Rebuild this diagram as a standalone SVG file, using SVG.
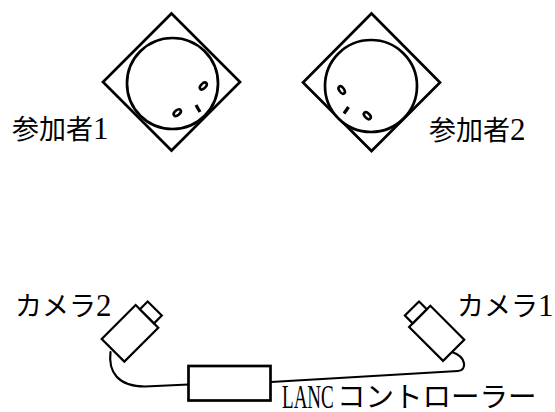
<svg xmlns="http://www.w3.org/2000/svg" width="555" height="412" viewBox="0 0 555 412">
  <style>
    .outline { fill: #fff; stroke: #000; stroke-width: 2.7; stroke-linejoin: miter; }
    .eye { fill: #fff; stroke: #000; stroke-width: 2.6; }
    .nose { stroke: #000; stroke-width: 3.2; stroke-linecap: butt; }
    .cam { fill: #fff; stroke: #000; stroke-width: 2.2; }
    .cable { fill: none; stroke: #000; stroke-width: 2.2; stroke-linecap: round; }
    .label { font-family: "Liberation Serif", "Noto Sans CJK JP", serif; font-size: 27px; fill: #000; }
    .num { font-family: "Liberation Serif", serif; font-size: 31px; }
  </style>
  <rect width="555" height="412" fill="#fff"/>

  <!-- cables between the cameras and the controller -->
  <g id="connectors">
    <path class="cable" d="M110.5,352 C108,372 118,386.5 145,386.5 L188.5,384.5"/>
    <path class="cable" d="M271,382 L458,371 C467,370.5 467,357 452,352"/>
  </g>

  <!-- participant 1: seat (diamond) with head seen from above -->
  <g id="participant1">
    <polygon class="outline" points="171.5,13.5 240,82 171.5,150.5 103,82"/>
    <circle class="outline" cx="172.5" cy="83.5" r="45.5"/>
    <ellipse class="eye" cx="203.3" cy="86" rx="4.2" ry="2.4" transform="rotate(-45 203.3 86)"/>
    <ellipse class="eye" cx="177.3" cy="112.7" rx="4.2" ry="2.4" transform="rotate(-40 177.3 112.7)"/>
    <line class="nose" x1="196" y1="105" x2="200" y2="112"/>
    <text class="label" x="12" y="139">参加者<tspan class="num">1</tspan></text>
  </g>

  <!-- participant 2 -->
  <g id="participant2">
    <polygon class="outline" points="371.5,13.5 440,82.5 371.5,151 303,82.5"/>
    <circle class="outline" cx="371" cy="86" r="46"/>
    <ellipse class="eye" cx="341.7" cy="90" rx="4.2" ry="2.4" transform="rotate(55 341.7 90)"/>
    <ellipse class="eye" cx="367.3" cy="115.7" rx="4.2" ry="2.4" transform="rotate(45 367.3 115.7)"/>
    <line class="nose" x1="348.5" y1="107" x2="344" y2="113.5"/>
    <text class="label" x="429" y="140">参加者<tspan class="num">2</tspan></text>
  </g>

  <!-- camera 2 (left), lens facing up-right -->
  <g id="camera2">
    <g transform="translate(130,333.3) rotate(-45)">
      <rect class="cam" x="-24" y="-16" width="48" height="32"/>
      <rect class="cam" x="24" y="-10" width="11" height="20"/>
    </g>
    <text class="label" x="15" y="316">カメラ<tspan class="num">2</tspan></text>
  </g>

  <!-- camera 1 (right), lens facing up-left -->
  <g id="camera1">
    <g transform="translate(436.7,333.3) rotate(-135)">
      <rect class="cam" x="-24" y="-15" width="48" height="30"/>
      <rect class="cam" x="24" y="-10" width="11" height="20"/>
    </g>
    <text class="label" x="457" y="316">カメラ<tspan class="num">1</tspan></text>
  </g>

  <!-- LANC controller box; the Latin part is set condensed -->
  <g id="lanc-controller">
    <rect class="outline" x="188.5" y="366" width="82" height="34.5"/>
    <text class="label" transform="translate(282,408) scale(0.56,1)" style="font-family:'Liberation Serif',serif;font-size:34px">LANC</text>
    <text class="label" x="337" y="407" style="font-size:28.5px">コントローラー</text>
  </g>
</svg>
